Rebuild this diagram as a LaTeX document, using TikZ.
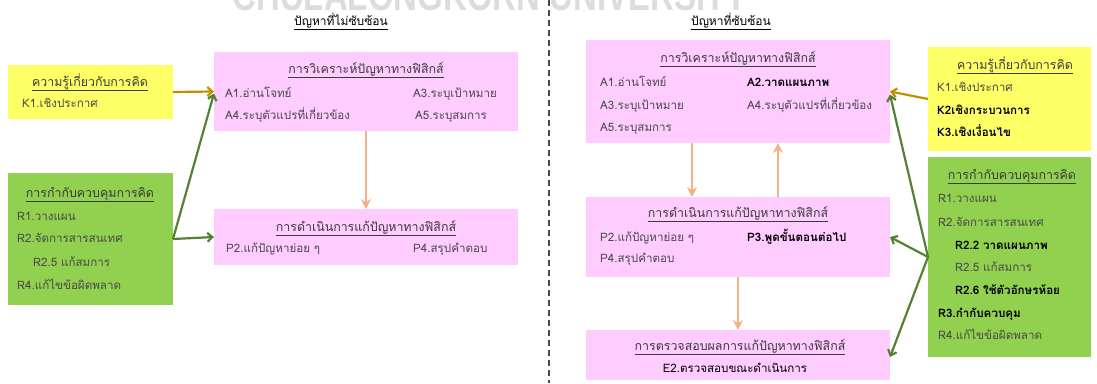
\documentclass[tikz,border=0pt]{standalone}
\usepackage{fontspec}
\setmainfont{Loma}[Script=Thai]
\newfontfamily\wmfont{Liberation Sans}
\usetikzlibrary{arrows.meta,calc}
\definecolor{pinkc}{HTML}{FFCCFF}
\definecolor{yellowc}{HTML}{FFFF66}
\definecolor{greenc}{HTML}{92D050}
\definecolor{goldc}{HTML}{BF9000}
\definecolor{garrow}{HTML}{548235}
\definecolor{orangec}{HTML}{F4B183}
\definecolor{textc}{HTML}{4A4A4A}
\definecolor{wmc}{HTML}{DCDCDC}
\newcommand\fs{\fontsize{11.6}{13}\selectfont}
\newcommand\ft{\fontsize{12.4}{14}\selectfont}
\begin{document}
\begin{tikzpicture}[x=1pt,y=-1pt,
  box/.style={rectangle, inner sep=0pt, outer sep=0pt, anchor=north west},
  txt/.style={anchor=base west, inner sep=0pt, text=textc, font=\fs},
  ttl/.style={anchor=base, inner sep=0pt, text=textc!80!black, font=\ft},
  bt/.style={anchor=base west, inner sep=0pt, text=black, font=\fs\bfseries},
  goldarr/.style={draw=goldc, line width=2.2pt, -{Straight Barb[length=5pt,width=9pt]}},
  greenarr/.style={draw=garrow, line width=2.2pt, -{Straight Barb[length=5pt,width=9pt]}},
  orarr/.style={draw=orangec, line width=2.8pt, -{Stealth[length=10pt,width=10pt]}}]
\useasboundingbox (0,0) rectangle (1097,383);
\begin{scope}
\clip (0,0) rectangle (1097,383);
\node[anchor=base, inner sep=0pt, text=wmc] (wm) at (490,10)
  {\scalebox{1}[1.3]{\wmfont\bfseries\fontsize{33}{33}\selectfont CHULALONGKORN UNIVERSITY}};
\end{scope}
% divider
\draw[textc, line width=1.3pt, dash pattern=on 6pt off 4pt] (549,0) -- (549,383);
% section titles
\node[anchor=base, inner sep=0pt, font=\fontsize{12}{14}\selectfont, text=black] (t1) at (341,25) {\underline{ปัญหาที่ไม่ซับซ้อน}};
\node[anchor=base, inner sep=0pt, font=\fontsize{12}{14}\selectfont, text=black] (t2) at (731,25) {\underline{ปัญหาที่ซับซ้อน}};
% ---------- left boxes
\node[box, fill=yellowc, minimum width=165pt, minimum height=54pt] (Kl) at (8,65) {};
\node[box, fill=greenc, minimum width=165pt, minimum height=132pt] (Rl) at (8,173) {};
\node[box, fill=pinkc, minimum width=304pt, minimum height=79pt] (Al) at (214,52) {};
\node[box, fill=pinkc, minimum width=304pt, minimum height=56pt] (Pl) at (214,209) {};
% left texts
\node[ttl] (klt) at (90,86) {\underline{ความรู้เกี่ยวกับการคิด}};
\node[txt] (kl1) at (22,107) {K1.เชิงประกาศ};
\node[ttl] (rlt) at (90,197) {\underline{การกำกับควบคุมการคิด}};
\node[txt] (rl1) at (17,220) {R1.วางแผน};
\node[txt] (rl2) at (17,242) {R2.จัดการสารสนเทศ};
\node[txt] (rl3) at (33,266) {R2.5 แก้สมการ};
\node[txt] (rl4) at (17,289) {R4.แก้ไขข้อผิดพลาด};
\node[ttl] (alt) at (366,73) {\underline{การวิเคราะห์ปัญหาทางฟิสิกส์}};
\node[txt] (al1) at (225,97) {A1.อ่านโจทย์};
\node[txt] (al3) at (413,97) {A3.ระบุเป้าหมาย};
\node[txt] (al4) at (225,119) {A4.ระบุตัวแปรที่เกี่ยวข้อง};
\node[txt] (al5) at (415,119) {A5.ระบุสมการ};
\node[ttl] (plt) at (366,231) {\underline{การดำเนินการแก้ปัญหาทางฟิสิกส์}};
\node[txt] (pl2) at (226,252) {P2.แก้ปัญหาย่อย ๆ};
\node[txt] (pl4) at (413,252) {P4.สรุปคำตอบ};
% left arrows
\draw[goldarr] (Kl.east) -- (Al.west);
\draw[greenarr] (Rl.east) -- ([yshift=-2pt]Al.west);
\draw[greenarr] (Rl.east) -- (Pl.west);
\draw[orarr] (Al.south) -- (Pl.north);
% ---------- right boxes
\node[box, fill=pinkc, minimum width=304pt, minimum height=103pt] (Ar) at (586,40) {};
\node[box, fill=pinkc, minimum width=304pt, minimum height=80pt] (Pr) at (586,197) {};
\node[box, fill=pinkc, minimum width=304pt, minimum height=50pt] (Er) at (586,330) {};
\node[box, fill=yellowc, minimum width=163pt, minimum height=104pt] (Kr) at (928,47) {};
\node[box, fill=greenc, minimum width=163pt, minimum height=200pt] (Rr) at (928,157) {};
% right texts
\node[ttl] (art) at (738,62) {\underline{การวิเคราะห์ปัญหาทางฟิสิกส์}};
\node[txt] (ar1) at (600,86) {A1.อ่านโจทย์};
\node[bt] (ar2) at (747,86) {A2.วาดแผนภาพ};
\node[txt] (ar3) at (600,109) {A3.ระบุเป้าหมาย};
\node[txt] (ar4) at (747,109) {A4.ระบุตัวแปรที่เกี่ยวข้อง};
\node[txt] (ar5) at (600,131) {A5.ระบุสมการ};
\node[ttl] (prt) at (738,217) {\underline{การดำเนินการแก้ปัญหาทางฟิสิกส์}};
\node[txt] (pr2) at (600,241) {P2.แก้ปัญหาย่อย ๆ};
\node[bt] (pr3) at (747,241) {P3.พูดขั้นตอนต่อไป};
\node[txt] (pr4) at (600,262) {P4.สรุปคำตอบ};
\node[ttl] (ert) at (740,350) {\underline{การตรวจสอบผลการแก้ปัญหาทางฟิสิกส์}};
\node[anchor=base, inner sep=0pt, font=\fs, text=black] (er2) at (735,372) {E2.ตรวจสอบขณะดำเนินการ};
\node[ttl] (krt) at (1015,69) {\underline{ความรู้เกี่ยวกับการคิด}};
\node[txt] (kr1) at (937,91) {K1.เชิงประกาศ};
\node[bt] (kr2) at (937,114) {K2เชิงกระบวนการ};
\node[bt] (kr3) at (937,136) {K3.เชิงเงื่อนไข};
\node[ttl] (rrt) at (1012,179) {\underline{การกำกับควบคุมการคิด}};
\node[txt] (rr1) at (938,202) {R1.วางแผน};
\node[txt] (rr2) at (938,226) {R2.จัดการสารสนเทศ};
\node[bt] (rr22) at (955,249) {R2.2 วาดแผนภาพ};
\node[txt] (rr25) at (955,271) {R2.5 แก้สมการ};
\node[bt] (rr26) at (955,294) {R2.6 ใช้ตัวอักษรห้อย};
\node[bt] (rr3) at (938,317) {R3.กำกับควบคุม};
\node[txt] (rr4) at (938,339) {R4.แก้ไขข้อผิดพลาด};
% right arrows
\draw[goldarr] (Kr.west) -- (Ar.east);
\draw[greenarr] (Rr.west) -- ([yshift=-3pt]Ar.east);
\draw[greenarr] (Rr.west) -- (Pr.east);
\draw[greenarr] (Rr.west) -- ([yshift=-2pt]Er.east);
\draw[orarr] ([xshift=-46pt]Ar.south) -- ([xshift=-46pt]Pr.north);
\draw[orarr] ([xshift=40pt]Pr.north) -- ([xshift=40pt]Ar.south);
\draw[orarr] (Pr.south) -- (Er.north);
\end{tikzpicture}
\end{document}
